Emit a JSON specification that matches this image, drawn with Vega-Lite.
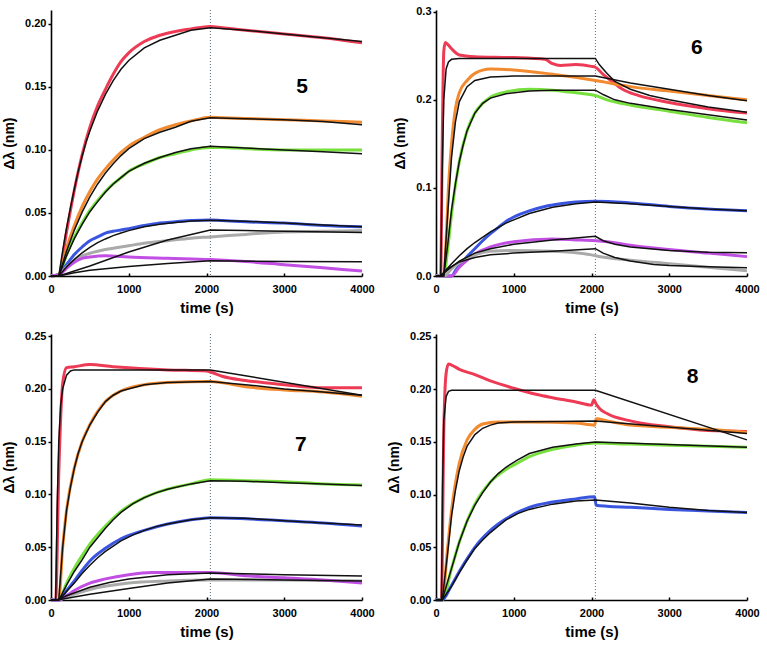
{
"$schema": "https://vega.github.io/schema/vega-lite/v6.json",
"background": "white",
"padding": {"left": 2, "top": 5, "right": 5, "bottom": 5},
"columns": 2,
"spacing": {"row": 58, "column": 74},
"bounds": "flush",
"config": {
  "view": {"stroke": null},
  "axis": {"grid": false, "domainColor": "black", "domainWidth": 1.6, "tickColor": "black", "tickWidth": 1.5,
    "labelFont": "Liberation Sans", "labelFontWeight": "bold", "labelFontSize": 11, "labelColor": "black",
    "titleFont": "Liberation Sans", "titleFontWeight": "bold", "titleFontSize": 14, "titleColor": "black", "labelFlush": false, "labelOverlap": false},
  "axisX": {"tickSize": -3, "labelPadding": 10, "titlePadding": 6, "titleFontSize": 15, "format": "d"},
  "axisY": {"tickSize": 3, "labelPadding": 2, "titlePadding": 8}
},
"datasets": {
"p5": [
{"s":"R","k":"d","t":0,"v":0},{"s":"R","k":"d","t":100,"v":0.001},{"s":"R","k":"d","t":200,"v":0.035},{"s":"R","k":"d","t":300,"v":0.068},{"s":"R","k":"d","t":400,"v":0.096},{"s":"R","k":"d","t":500,"v":0.118},{"s":"R","k":"d","t":600,"v":0.135},{"s":"R","k":"d","t":700,"v":0.148},{"s":"R","k":"d","t":800,"v":0.16},{"s":"R","k":"d","t":900,"v":0.17},{"s":"R","k":"d","t":1000,"v":0.177},{"s":"R","k":"d","t":1200,"v":0.186},{"s":"R","k":"d","t":1400,"v":0.191},{"s":"R","k":"d","t":1600,"v":0.194},{"s":"R","k":"d","t":1800,"v":0.196},{"s":"R","k":"d","t":2050,"v":0.198},{"s":"R","k":"d","t":2200,"v":0.197},{"s":"R","k":"d","t":2500,"v":0.195},{"s":"R","k":"d","t":3000,"v":0.192},{"s":"R","k":"d","t":3500,"v":0.189},{"s":"R","k":"d","t":4000,"v":0.185},
{"s":"R","k":"f","t":0,"v":0},{"s":"R","k":"f","t":100,"v":0},{"s":"R","k":"f","t":150,"v":0.02},{"s":"R","k":"f","t":200,"v":0.038},{"s":"R","k":"f","t":250,"v":0.054},{"s":"R","k":"f","t":300,"v":0.069},{"s":"R","k":"f","t":350,"v":0.083},{"s":"R","k":"f","t":400,"v":0.095},{"s":"R","k":"f","t":450,"v":0.106},{"s":"R","k":"f","t":500,"v":0.115},{"s":"R","k":"f","t":600,"v":0.131},{"s":"R","k":"f","t":700,"v":0.144},{"s":"R","k":"f","t":800,"v":0.155},{"s":"R","k":"f","t":900,"v":0.164},{"s":"R","k":"f","t":1000,"v":0.171},{"s":"R","k":"f","t":1200,"v":0.181},{"s":"R","k":"f","t":1400,"v":0.187},{"s":"R","k":"f","t":1600,"v":0.191},{"s":"R","k":"f","t":1800,"v":0.195},{"s":"R","k":"f","t":2050,"v":0.197},{"s":"R","k":"f","t":2500,"v":0.195},{"s":"R","k":"f","t":3000,"v":0.192},{"s":"R","k":"f","t":3500,"v":0.189},{"s":"R","k":"f","t":4000,"v":0.186},
{"s":"O","k":"d","t":0,"v":0},{"s":"O","k":"d","t":100,"v":0.001},{"s":"O","k":"d","t":200,"v":0.022},{"s":"O","k":"d","t":300,"v":0.04},{"s":"O","k":"d","t":400,"v":0.055},{"s":"O","k":"d","t":500,"v":0.067},{"s":"O","k":"d","t":600,"v":0.077},{"s":"O","k":"d","t":700,"v":0.085},{"s":"O","k":"d","t":800,"v":0.092},{"s":"O","k":"d","t":900,"v":0.098},{"s":"O","k":"d","t":1000,"v":0.103},{"s":"O","k":"d","t":1200,"v":0.11},{"s":"O","k":"d","t":1400,"v":0.116},{"s":"O","k":"d","t":1600,"v":0.12},{"s":"O","k":"d","t":1800,"v":0.123},{"s":"O","k":"d","t":2050,"v":0.126},{"s":"O","k":"d","t":2200,"v":0.1255},{"s":"O","k":"d","t":2500,"v":0.125},{"s":"O","k":"d","t":3000,"v":0.124},{"s":"O","k":"d","t":3500,"v":0.123},{"s":"O","k":"d","t":4000,"v":0.122},
{"s":"O","k":"f","t":0,"v":0},{"s":"O","k":"f","t":100,"v":0},{"s":"O","k":"f","t":200,"v":0.0197},{"s":"O","k":"f","t":300,"v":0.0364},{"s":"O","k":"f","t":400,"v":0.0507},{"s":"O","k":"f","t":500,"v":0.0628},{"s":"O","k":"f","t":600,"v":0.073},{"s":"O","k":"f","t":700,"v":0.0817},{"s":"O","k":"f","t":800,"v":0.089},{"s":"O","k":"f","t":900,"v":0.0955},{"s":"O","k":"f","t":1000,"v":0.101},{"s":"O","k":"f","t":1200,"v":0.109},{"s":"O","k":"f","t":1400,"v":0.114},{"s":"O","k":"f","t":1600,"v":0.118},{"s":"O","k":"f","t":1800,"v":0.1227},{"s":"O","k":"f","t":2050,"v":0.1255},{"s":"O","k":"f","t":2500,"v":0.1248},{"s":"O","k":"f","t":3000,"v":0.124},{"s":"O","k":"f","t":3500,"v":0.1225},{"s":"O","k":"f","t":4000,"v":0.12},
{"s":"G","k":"d","t":0,"v":0},{"s":"G","k":"d","t":100,"v":0.001},{"s":"G","k":"d","t":200,"v":0.017},{"s":"G","k":"d","t":300,"v":0.031},{"s":"G","k":"d","t":400,"v":0.042},{"s":"G","k":"d","t":500,"v":0.052},{"s":"G","k":"d","t":600,"v":0.06},{"s":"G","k":"d","t":700,"v":0.067},{"s":"G","k":"d","t":800,"v":0.073},{"s":"G","k":"d","t":900,"v":0.078},{"s":"G","k":"d","t":1000,"v":0.083},{"s":"G","k":"d","t":1200,"v":0.089},{"s":"G","k":"d","t":1400,"v":0.094},{"s":"G","k":"d","t":1600,"v":0.097},{"s":"G","k":"d","t":1800,"v":0.1},{"s":"G","k":"d","t":2050,"v":0.102},{"s":"G","k":"d","t":2200,"v":0.102},{"s":"G","k":"d","t":2500,"v":0.101},{"s":"G","k":"d","t":3000,"v":0.1},{"s":"G","k":"d","t":3500,"v":0.1},{"s":"G","k":"d","t":4000,"v":0.1},
{"s":"G","k":"f","t":0,"v":0},{"s":"G","k":"f","t":100,"v":0},{"s":"G","k":"f","t":200,"v":0.016},{"s":"G","k":"f","t":300,"v":0.0296},{"s":"G","k":"f","t":400,"v":0.041},{"s":"G","k":"f","t":500,"v":0.051},{"s":"G","k":"f","t":600,"v":0.059},{"s":"G","k":"f","t":700,"v":0.0667},{"s":"G","k":"f","t":800,"v":0.073},{"s":"G","k":"f","t":900,"v":0.078},{"s":"G","k":"f","t":1000,"v":0.083},{"s":"G","k":"f","t":1200,"v":0.0894},{"s":"G","k":"f","t":1400,"v":0.094},{"s":"G","k":"f","t":1600,"v":0.098},{"s":"G","k":"f","t":1800,"v":0.1009},{"s":"G","k":"f","t":2050,"v":0.103},{"s":"G","k":"f","t":2500,"v":0.1015},{"s":"G","k":"f","t":3000,"v":0.1},{"s":"G","k":"f","t":3500,"v":0.0985},{"s":"G","k":"f","t":4000,"v":0.097},
{"s":"B","k":"d","t":0,"v":0},{"s":"B","k":"d","t":100,"v":0.001},{"s":"B","k":"d","t":200,"v":0.009},{"s":"B","k":"d","t":300,"v":0.017},{"s":"B","k":"d","t":400,"v":0.023},{"s":"B","k":"d","t":500,"v":0.028},{"s":"B","k":"d","t":600,"v":0.031},{"s":"B","k":"d","t":700,"v":0.034},{"s":"B","k":"d","t":800,"v":0.0355},{"s":"B","k":"d","t":900,"v":0.0365},{"s":"B","k":"d","t":1000,"v":0.0375},{"s":"B","k":"d","t":1200,"v":0.04},{"s":"B","k":"d","t":1400,"v":0.042},{"s":"B","k":"d","t":1600,"v":0.043},{"s":"B","k":"d","t":1800,"v":0.044},{"s":"B","k":"d","t":2050,"v":0.0445},{"s":"B","k":"d","t":2200,"v":0.044},{"s":"B","k":"d","t":2500,"v":0.043},{"s":"B","k":"d","t":3000,"v":0.042},{"s":"B","k":"d","t":3500,"v":0.04},{"s":"B","k":"d","t":4000,"v":0.039},
{"s":"B","k":"f","t":0,"v":0},{"s":"B","k":"f","t":100,"v":0},{"s":"B","k":"f","t":200,"v":0.0072},{"s":"B","k":"f","t":300,"v":0.0132},{"s":"B","k":"f","t":400,"v":0.0184},{"s":"B","k":"f","t":500,"v":0.0227},{"s":"B","k":"f","t":600,"v":0.0265},{"s":"B","k":"f","t":700,"v":0.0294},{"s":"B","k":"f","t":800,"v":0.032},{"s":"B","k":"f","t":900,"v":0.0341},{"s":"B","k":"f","t":1000,"v":0.036},{"s":"B","k":"f","t":1200,"v":0.039},{"s":"B","k":"f","t":1400,"v":0.041},{"s":"B","k":"f","t":1600,"v":0.0425},{"s":"B","k":"f","t":1800,"v":0.0436},{"s":"B","k":"f","t":2050,"v":0.0443},{"s":"B","k":"f","t":2500,"v":0.0435},{"s":"B","k":"f","t":3000,"v":0.042},{"s":"B","k":"f","t":3500,"v":0.0405},{"s":"B","k":"f","t":4000,"v":0.039},
{"s":"Y","k":"d","t":0,"v":0},{"s":"Y","k":"d","t":100,"v":0.001},{"s":"Y","k":"d","t":200,"v":0.007},{"s":"Y","k":"d","t":300,"v":0.012},{"s":"Y","k":"d","t":400,"v":0.016},{"s":"Y","k":"d","t":500,"v":0.018},{"s":"Y","k":"d","t":700,"v":0.021},{"s":"Y","k":"d","t":1000,"v":0.024},{"s":"Y","k":"d","t":1200,"v":0.026},{"s":"Y","k":"d","t":1500,"v":0.028},{"s":"Y","k":"d","t":1800,"v":0.03},{"s":"Y","k":"d","t":2050,"v":0.031},{"s":"Y","k":"d","t":2500,"v":0.033},{"s":"Y","k":"d","t":3000,"v":0.035},{"s":"Y","k":"d","t":3500,"v":0.0355},{"s":"Y","k":"d","t":4000,"v":0.036},
{"s":"Y","k":"f","t":0,"v":0},{"s":"Y","k":"f","t":100,"v":0},{"s":"Y","k":"f","t":500,"v":0.008},{"s":"Y","k":"f","t":1000,"v":0.019},{"s":"Y","k":"f","t":1500,"v":0.0285},{"s":"Y","k":"f","t":2050,"v":0.0365},{"s":"Y","k":"f","t":2500,"v":0.036},{"s":"Y","k":"f","t":3000,"v":0.0355},{"s":"Y","k":"f","t":4000,"v":0.0345},
{"s":"M","k":"d","t":0,"v":0},{"s":"M","k":"d","t":100,"v":0.001},{"s":"M","k":"d","t":200,"v":0.006},{"s":"M","k":"d","t":300,"v":0.011},{"s":"M","k":"d","t":400,"v":0.014},{"s":"M","k":"d","t":500,"v":0.015},{"s":"M","k":"d","t":700,"v":0.016},{"s":"M","k":"d","t":1000,"v":0.015},{"s":"M","k":"d","t":1500,"v":0.014},{"s":"M","k":"d","t":2050,"v":0.013},{"s":"M","k":"d","t":2500,"v":0.0115},{"s":"M","k":"d","t":3000,"v":0.009},{"s":"M","k":"d","t":3500,"v":0.0065},{"s":"M","k":"d","t":4000,"v":0.004},
{"s":"M","k":"f","t":0,"v":0},{"s":"M","k":"f","t":100,"v":0},{"s":"M","k":"f","t":300,"v":0.0025},{"s":"M","k":"f","t":500,"v":0.0045},{"s":"M","k":"f","t":1000,"v":0.0075},{"s":"M","k":"f","t":1500,"v":0.01},{"s":"M","k":"f","t":2050,"v":0.012},{"s":"M","k":"f","t":3000,"v":0.0115},{"s":"M","k":"f","t":4000,"v":0.0113}
],
"p6": [
{"s":"R","k":"d","t":0,"v":0},{"s":"R","k":"d","t":60,"v":0},{"s":"R","k":"d","t":80,"v":0.15},{"s":"R","k":"d","t":100,"v":0.255},{"s":"R","k":"d","t":120,"v":0.265},{"s":"R","k":"d","t":150,"v":0.263},{"s":"R","k":"d","t":200,"v":0.258},{"s":"R","k":"d","t":300,"v":0.251},{"s":"R","k":"d","t":500,"v":0.249},{"s":"R","k":"d","t":1000,"v":0.248},{"s":"R","k":"d","t":1400,"v":0.246},{"s":"R","k":"d","t":1500,"v":0.241},{"s":"R","k":"d","t":1600,"v":0.239},{"s":"R","k":"d","t":1800,"v":0.24},{"s":"R","k":"d","t":2000,"v":0.238},{"s":"R","k":"d","t":2050,"v":0.237},{"s":"R","k":"d","t":2150,"v":0.229},{"s":"R","k":"d","t":2250,"v":0.222},{"s":"R","k":"d","t":2400,"v":0.212},{"s":"R","k":"d","t":2600,"v":0.205},{"s":"R","k":"d","t":3000,"v":0.197},{"s":"R","k":"d","t":3500,"v":0.19},{"s":"R","k":"d","t":4000,"v":0.185},
{"s":"R","k":"f","t":0,"v":0},{"s":"R","k":"f","t":60,"v":0},{"s":"R","k":"f","t":80,"v":0.12},{"s":"R","k":"f","t":100,"v":0.2},{"s":"R","k":"f","t":130,"v":0.235},{"s":"R","k":"f","t":160,"v":0.243},{"s":"R","k":"f","t":200,"v":0.246},{"s":"R","k":"f","t":300,"v":0.247},{"s":"R","k":"f","t":2050,"v":0.247},{"s":"R","k":"f","t":2100,"v":0.24},{"s":"R","k":"f","t":2200,"v":0.23},{"s":"R","k":"f","t":2300,"v":0.221},{"s":"R","k":"f","t":2500,"v":0.212},{"s":"R","k":"f","t":2750,"v":0.205},{"s":"R","k":"f","t":3000,"v":0.2},{"s":"R","k":"f","t":3500,"v":0.192},{"s":"R","k":"f","t":4000,"v":0.186},
{"s":"O","k":"d","t":0,"v":0},{"s":"O","k":"d","t":100,"v":0},{"s":"O","k":"d","t":130,"v":0.04},{"s":"O","k":"d","t":160,"v":0.1},{"s":"O","k":"d","t":200,"v":0.15},{"s":"O","k":"d","t":250,"v":0.19},{"s":"O","k":"d","t":300,"v":0.208},{"s":"O","k":"d","t":400,"v":0.222},{"s":"O","k":"d","t":500,"v":0.23},{"s":"O","k":"d","t":700,"v":0.235},{"s":"O","k":"d","t":1000,"v":0.234},{"s":"O","k":"d","t":1500,"v":0.229},{"s":"O","k":"d","t":2050,"v":0.222},{"s":"O","k":"d","t":2500,"v":0.215},{"s":"O","k":"d","t":3000,"v":0.21},{"s":"O","k":"d","t":3500,"v":0.205},{"s":"O","k":"d","t":4000,"v":0.2},
{"s":"O","k":"f","t":0,"v":0},{"s":"O","k":"f","t":100,"v":0},{"s":"O","k":"f","t":150,"v":0.07},{"s":"O","k":"f","t":200,"v":0.135},{"s":"O","k":"f","t":250,"v":0.175},{"s":"O","k":"f","t":300,"v":0.198},{"s":"O","k":"f","t":400,"v":0.215},{"s":"O","k":"f","t":500,"v":0.222},{"s":"O","k":"f","t":700,"v":0.226},{"s":"O","k":"f","t":1000,"v":0.227},{"s":"O","k":"f","t":2050,"v":0.227},{"s":"O","k":"f","t":2500,"v":0.219},{"s":"O","k":"f","t":3000,"v":0.212},{"s":"O","k":"f","t":3500,"v":0.205},{"s":"O","k":"f","t":4000,"v":0.199},
{"s":"G","k":"d","t":0,"v":0},{"s":"G","k":"d","t":100,"v":0},{"s":"G","k":"d","t":150,"v":0.03},{"s":"G","k":"d","t":200,"v":0.07},{"s":"G","k":"d","t":300,"v":0.13},{"s":"G","k":"d","t":400,"v":0.165},{"s":"G","k":"d","t":500,"v":0.185},{"s":"G","k":"d","t":600,"v":0.196},{"s":"G","k":"d","t":700,"v":0.203},{"s":"G","k":"d","t":900,"v":0.209},{"s":"G","k":"d","t":1200,"v":0.212},{"s":"G","k":"d","t":1500,"v":0.211},{"s":"G","k":"d","t":1800,"v":0.208},{"s":"G","k":"d","t":2050,"v":0.205},{"s":"G","k":"d","t":2200,"v":0.2},{"s":"G","k":"d","t":2500,"v":0.194},{"s":"G","k":"d","t":3000,"v":0.187},{"s":"G","k":"d","t":3500,"v":0.18},{"s":"G","k":"d","t":4000,"v":0.174},
{"s":"G","k":"f","t":0,"v":0},{"s":"G","k":"f","t":100,"v":0},{"s":"G","k":"f","t":150,"v":0.035},{"s":"G","k":"f","t":200,"v":0.075},{"s":"G","k":"f","t":250,"v":0.105},{"s":"G","k":"f","t":300,"v":0.13},{"s":"G","k":"f","t":350,"v":0.149},{"s":"G","k":"f","t":400,"v":0.165},{"s":"G","k":"f","t":500,"v":0.185},{"s":"G","k":"f","t":600,"v":0.196},{"s":"G","k":"f","t":700,"v":0.202},{"s":"G","k":"f","t":900,"v":0.207},{"s":"G","k":"f","t":1200,"v":0.21},{"s":"G","k":"f","t":1500,"v":0.211},{"s":"G","k":"f","t":2050,"v":0.211},{"s":"G","k":"f","t":2150,"v":0.206},{"s":"G","k":"f","t":2300,"v":0.2},{"s":"G","k":"f","t":2500,"v":0.196},{"s":"G","k":"f","t":3000,"v":0.189},{"s":"G","k":"f","t":3500,"v":0.183},{"s":"G","k":"f","t":4000,"v":0.177},
{"s":"B","k":"d","t":0,"v":0},{"s":"B","k":"d","t":200,"v":0},{"s":"B","k":"d","t":250,"v":0.006},{"s":"B","k":"d","t":300,"v":0.012},{"s":"B","k":"d","t":400,"v":0.022},{"s":"B","k":"d","t":500,"v":0.031},{"s":"B","k":"d","t":600,"v":0.04},{"s":"B","k":"d","t":700,"v":0.048},{"s":"B","k":"d","t":800,"v":0.055},{"s":"B","k":"d","t":900,"v":0.062},{"s":"B","k":"d","t":1000,"v":0.067},{"s":"B","k":"d","t":1200,"v":0.074},{"s":"B","k":"d","t":1400,"v":0.079},{"s":"B","k":"d","t":1600,"v":0.082},{"s":"B","k":"d","t":1800,"v":0.084},{"s":"B","k":"d","t":2050,"v":0.085},{"s":"B","k":"d","t":2500,"v":0.083},{"s":"B","k":"d","t":3000,"v":0.079},{"s":"B","k":"d","t":3500,"v":0.076},{"s":"B","k":"d","t":4000,"v":0.074},
{"s":"B","k":"f","t":0,"v":0},{"s":"B","k":"f","t":60,"v":0},{"s":"B","k":"f","t":100,"v":0.004},{"s":"B","k":"f","t":200,"v":0.014},{"s":"B","k":"f","t":300,"v":0.023},{"s":"B","k":"f","t":400,"v":0.031},{"s":"B","k":"f","t":500,"v":0.038},{"s":"B","k":"f","t":700,"v":0.05},{"s":"B","k":"f","t":900,"v":0.06},{"s":"B","k":"f","t":1200,"v":0.071},{"s":"B","k":"f","t":1500,"v":0.078},{"s":"B","k":"f","t":1800,"v":0.082},{"s":"B","k":"f","t":2050,"v":0.084},{"s":"B","k":"f","t":2500,"v":0.082},{"s":"B","k":"f","t":3000,"v":0.079},{"s":"B","k":"f","t":3500,"v":0.076},{"s":"B","k":"f","t":4000,"v":0.074},
{"s":"M","k":"d","t":0,"v":0},{"s":"M","k":"d","t":200,"v":0},{"s":"M","k":"d","t":300,"v":0.01},{"s":"M","k":"d","t":400,"v":0.018},{"s":"M","k":"d","t":500,"v":0.025},{"s":"M","k":"d","t":700,"v":0.033},{"s":"M","k":"d","t":1000,"v":0.039},{"s":"M","k":"d","t":1500,"v":0.042},{"s":"M","k":"d","t":1800,"v":0.041},{"s":"M","k":"d","t":2050,"v":0.04},{"s":"M","k":"d","t":2200,"v":0.039},{"s":"M","k":"d","t":2500,"v":0.035},{"s":"M","k":"d","t":3000,"v":0.03},{"s":"M","k":"d","t":3500,"v":0.026},{"s":"M","k":"d","t":4000,"v":0.022},
{"s":"M","k":"f","t":0,"v":0},{"s":"M","k":"f","t":60,"v":0},{"s":"M","k":"f","t":150,"v":0.007},{"s":"M","k":"f","t":300,"v":0.017},{"s":"M","k":"f","t":500,"v":0.026},{"s":"M","k":"f","t":700,"v":0.031},{"s":"M","k":"f","t":1000,"v":0.036},{"s":"M","k":"f","t":1500,"v":0.041},{"s":"M","k":"f","t":2050,"v":0.045},{"s":"M","k":"f","t":2150,"v":0.04},{"s":"M","k":"f","t":2300,"v":0.036},{"s":"M","k":"f","t":2500,"v":0.033},{"s":"M","k":"f","t":3000,"v":0.029},{"s":"M","k":"f","t":3500,"v":0.027},{"s":"M","k":"f","t":4000,"v":0.0265},
{"s":"Y","k":"d","t":0,"v":0},{"s":"Y","k":"d","t":100,"v":0},{"s":"Y","k":"d","t":200,"v":0.008},{"s":"Y","k":"d","t":300,"v":0.015},{"s":"Y","k":"d","t":500,"v":0.024},{"s":"Y","k":"d","t":700,"v":0.028},{"s":"Y","k":"d","t":1000,"v":0.029},{"s":"Y","k":"d","t":1500,"v":0.028},{"s":"Y","k":"d","t":2000,"v":0.024},{"s":"Y","k":"d","t":2050,"v":0.023},{"s":"Y","k":"d","t":2500,"v":0.018},{"s":"Y","k":"d","t":3000,"v":0.014},{"s":"Y","k":"d","t":3500,"v":0.01},{"s":"Y","k":"d","t":4000,"v":0.006},
{"s":"Y","k":"f","t":0,"v":0},{"s":"Y","k":"f","t":60,"v":0},{"s":"Y","k":"f","t":150,"v":0.008},{"s":"Y","k":"f","t":300,"v":0.016},{"s":"Y","k":"f","t":500,"v":0.021},{"s":"Y","k":"f","t":700,"v":0.024},{"s":"Y","k":"f","t":1000,"v":0.026},{"s":"Y","k":"f","t":1500,"v":0.028},{"s":"Y","k":"f","t":2050,"v":0.031},{"s":"Y","k":"f","t":2150,"v":0.026},{"s":"Y","k":"f","t":2300,"v":0.021},{"s":"Y","k":"f","t":2500,"v":0.017},{"s":"Y","k":"f","t":2800,"v":0.013},{"s":"Y","k":"f","t":3000,"v":0.012},{"s":"Y","k":"f","t":3500,"v":0.0105},{"s":"Y","k":"f","t":4000,"v":0.0095}
],
"p7": [
{"s":"R","k":"d","t":0,"v":0},{"s":"R","k":"d","t":60,"v":0},{"s":"R","k":"d","t":100,"v":0.12},{"s":"R","k":"d","t":150,"v":0.205},{"s":"R","k":"d","t":200,"v":0.22},{"s":"R","k":"d","t":300,"v":0.221},{"s":"R","k":"d","t":500,"v":0.223},{"s":"R","k":"d","t":800,"v":0.221},{"s":"R","k":"d","t":1000,"v":0.22},{"s":"R","k":"d","t":1500,"v":0.218},{"s":"R","k":"d","t":2000,"v":0.217},{"s":"R","k":"d","t":2050,"v":0.216},{"s":"R","k":"d","t":2200,"v":0.212},{"s":"R","k":"d","t":2500,"v":0.208},{"s":"R","k":"d","t":3000,"v":0.204},{"s":"R","k":"d","t":3500,"v":0.201},{"s":"R","k":"d","t":4000,"v":0.201},
{"s":"R","k":"f","t":0,"v":0},{"s":"R","k":"f","t":60,"v":0},{"s":"R","k":"f","t":80,"v":0.09},{"s":"R","k":"f","t":100,"v":0.15},{"s":"R","k":"f","t":125,"v":0.185},{"s":"R","k":"f","t":150,"v":0.2},{"s":"R","k":"f","t":200,"v":0.213},{"s":"R","k":"f","t":250,"v":0.217},{"s":"R","k":"f","t":300,"v":0.218},{"s":"R","k":"f","t":2050,"v":0.218},{"s":"R","k":"f","t":4000,"v":0.194},
{"s":"O","k":"d","t":0,"v":0},{"s":"O","k":"d","t":100,"v":0},{"s":"O","k":"d","t":150,"v":0.05},{"s":"O","k":"d","t":200,"v":0.085},{"s":"O","k":"d","t":300,"v":0.125},{"s":"O","k":"d","t":400,"v":0.15},{"s":"O","k":"d","t":500,"v":0.166},{"s":"O","k":"d","t":700,"v":0.188},{"s":"O","k":"d","t":900,"v":0.198},{"s":"O","k":"d","t":1200,"v":0.204},{"s":"O","k":"d","t":1500,"v":0.206},{"s":"O","k":"d","t":2050,"v":0.207},{"s":"O","k":"d","t":2500,"v":0.202},{"s":"O","k":"d","t":3000,"v":0.199},{"s":"O","k":"d","t":3500,"v":0.197},{"s":"O","k":"d","t":4000,"v":0.193},
{"s":"O","k":"f","t":0,"v":0},{"s":"O","k":"f","t":100,"v":0},{"s":"O","k":"f","t":150,"v":0.05},{"s":"O","k":"f","t":200,"v":0.085},{"s":"O","k":"f","t":250,"v":0.107},{"s":"O","k":"f","t":300,"v":0.125},{"s":"O","k":"f","t":350,"v":0.139},{"s":"O","k":"f","t":400,"v":0.15},{"s":"O","k":"f","t":500,"v":0.166},{"s":"O","k":"f","t":600,"v":0.178},{"s":"O","k":"f","t":700,"v":0.188},{"s":"O","k":"f","t":800,"v":0.194},{"s":"O","k":"f","t":900,"v":0.198},{"s":"O","k":"f","t":1200,"v":0.204},{"s":"O","k":"f","t":1500,"v":0.206},{"s":"O","k":"f","t":2050,"v":0.207},{"s":"O","k":"f","t":2500,"v":0.204},{"s":"O","k":"f","t":3000,"v":0.2},{"s":"O","k":"f","t":3500,"v":0.197},{"s":"O","k":"f","t":4000,"v":0.194},
{"s":"G","k":"d","t":0,"v":0},{"s":"G","k":"d","t":100,"v":0},{"s":"G","k":"d","t":200,"v":0.016},{"s":"G","k":"d","t":300,"v":0.03},{"s":"G","k":"d","t":400,"v":0.042},{"s":"G","k":"d","t":500,"v":0.053},{"s":"G","k":"d","t":700,"v":0.07},{"s":"G","k":"d","t":900,"v":0.084},{"s":"G","k":"d","t":1200,"v":0.097},{"s":"G","k":"d","t":1500,"v":0.105},{"s":"G","k":"d","t":1800,"v":0.11},{"s":"G","k":"d","t":2050,"v":0.114},{"s":"G","k":"d","t":2500,"v":0.113},{"s":"G","k":"d","t":3000,"v":0.112},{"s":"G","k":"d","t":3500,"v":0.11},{"s":"G","k":"d","t":4000,"v":0.109},
{"s":"G","k":"f","t":0,"v":0},{"s":"G","k":"f","t":100,"v":0},{"s":"G","k":"f","t":200,"v":0.014},{"s":"G","k":"f","t":300,"v":0.027},{"s":"G","k":"f","t":400,"v":0.038},{"s":"G","k":"f","t":500,"v":0.05},{"s":"G","k":"f","t":600,"v":0.059},{"s":"G","k":"f","t":700,"v":0.068},{"s":"G","k":"f","t":800,"v":0.076},{"s":"G","k":"f","t":900,"v":0.083},{"s":"G","k":"f","t":1050,"v":0.091},{"s":"G","k":"f","t":1200,"v":0.097},{"s":"G","k":"f","t":1350,"v":0.1015},{"s":"G","k":"f","t":1500,"v":0.105},{"s":"G","k":"f","t":1800,"v":0.11},{"s":"G","k":"f","t":2050,"v":0.113},{"s":"G","k":"f","t":2500,"v":0.1125},{"s":"G","k":"f","t":3000,"v":0.111},{"s":"G","k":"f","t":3500,"v":0.11},{"s":"G","k":"f","t":4000,"v":0.1085},
{"s":"B","k":"d","t":0,"v":0},{"s":"B","k":"d","t":100,"v":0},{"s":"B","k":"d","t":200,"v":0.009},{"s":"B","k":"d","t":300,"v":0.018},{"s":"B","k":"d","t":400,"v":0.028},{"s":"B","k":"d","t":500,"v":0.037},{"s":"B","k":"d","t":700,"v":0.049},{"s":"B","k":"d","t":900,"v":0.058},{"s":"B","k":"d","t":1200,"v":0.066},{"s":"B","k":"d","t":1500,"v":0.072},{"s":"B","k":"d","t":1800,"v":0.076},{"s":"B","k":"d","t":2050,"v":0.078},{"s":"B","k":"d","t":2500,"v":0.077},{"s":"B","k":"d","t":3000,"v":0.075},{"s":"B","k":"d","t":3500,"v":0.073},{"s":"B","k":"d","t":4000,"v":0.07},
{"s":"B","k":"f","t":0,"v":0},{"s":"B","k":"f","t":100,"v":0},{"s":"B","k":"f","t":200,"v":0.008},{"s":"B","k":"f","t":300,"v":0.016},{"s":"B","k":"f","t":400,"v":0.025},{"s":"B","k":"f","t":500,"v":0.033},{"s":"B","k":"f","t":600,"v":0.04},{"s":"B","k":"f","t":700,"v":0.046},{"s":"B","k":"f","t":800,"v":0.051},{"s":"B","k":"f","t":900,"v":0.056},{"s":"B","k":"f","t":1050,"v":0.0615},{"s":"B","k":"f","t":1200,"v":0.066},{"s":"B","k":"f","t":1350,"v":0.0695},{"s":"B","k":"f","t":1500,"v":0.072},{"s":"B","k":"f","t":1800,"v":0.076},{"s":"B","k":"f","t":2050,"v":0.078},{"s":"B","k":"f","t":2500,"v":0.0775},{"s":"B","k":"f","t":3000,"v":0.075},{"s":"B","k":"f","t":3500,"v":0.073},{"s":"B","k":"f","t":4000,"v":0.071},
{"s":"Y","k":"d","t":0,"v":0},{"s":"Y","k":"d","t":100,"v":0},{"s":"Y","k":"d","t":200,"v":0.003},{"s":"Y","k":"d","t":500,"v":0.01},{"s":"Y","k":"d","t":1000,"v":0.016},{"s":"Y","k":"d","t":1500,"v":0.018},{"s":"Y","k":"d","t":2050,"v":0.019},{"s":"Y","k":"d","t":3000,"v":0.019},{"s":"Y","k":"d","t":4000,"v":0.018},
{"s":"Y","k":"f","t":0,"v":0},{"s":"Y","k":"f","t":80,"v":0},{"s":"Y","k":"f","t":500,"v":0.0055},{"s":"Y","k":"f","t":1000,"v":0.011},{"s":"Y","k":"f","t":1500,"v":0.016},{"s":"Y","k":"f","t":2050,"v":0.02},{"s":"Y","k":"f","t":3000,"v":0.019},{"s":"Y","k":"f","t":4000,"v":0.018},
{"s":"M","k":"d","t":0,"v":0},{"s":"M","k":"d","t":100,"v":0},{"s":"M","k":"d","t":200,"v":0.004},{"s":"M","k":"d","t":300,"v":0.009},{"s":"M","k":"d","t":500,"v":0.016},{"s":"M","k":"d","t":700,"v":0.02},{"s":"M","k":"d","t":1000,"v":0.024},{"s":"M","k":"d","t":1300,"v":0.026},{"s":"M","k":"d","t":1600,"v":0.026},{"s":"M","k":"d","t":2050,"v":0.026},{"s":"M","k":"d","t":2500,"v":0.023},{"s":"M","k":"d","t":3000,"v":0.021},{"s":"M","k":"d","t":3500,"v":0.019},{"s":"M","k":"d","t":4000,"v":0.016},
{"s":"M","k":"f","t":0,"v":0},{"s":"M","k":"f","t":80,"v":0},{"s":"M","k":"f","t":200,"v":0.004},{"s":"M","k":"f","t":500,"v":0.012},{"s":"M","k":"f","t":750,"v":0.0165},{"s":"M","k":"f","t":1000,"v":0.02},{"s":"M","k":"f","t":1500,"v":0.024},{"s":"M","k":"f","t":2050,"v":0.0255},{"s":"M","k":"f","t":3000,"v":0.024},{"s":"M","k":"f","t":4000,"v":0.0227}
],
"p8": [
{"s":"R","k":"d","t":0,"v":0},{"s":"R","k":"d","t":70,"v":0},{"s":"R","k":"d","t":100,"v":0.16},{"s":"R","k":"d","t":130,"v":0.215},{"s":"R","k":"d","t":160,"v":0.224},{"s":"R","k":"d","t":200,"v":0.223},{"s":"R","k":"d","t":300,"v":0.219},{"s":"R","k":"d","t":500,"v":0.214},{"s":"R","k":"d","t":700,"v":0.208},{"s":"R","k":"d","t":1000,"v":0.201},{"s":"R","k":"d","t":1300,"v":0.195},{"s":"R","k":"d","t":1500,"v":0.192},{"s":"R","k":"d","t":1800,"v":0.188},{"s":"R","k":"d","t":2000,"v":0.185},{"s":"R","k":"d","t":2030,"v":0.19},{"s":"R","k":"d","t":2060,"v":0.186},{"s":"R","k":"d","t":2100,"v":0.182},{"s":"R","k":"d","t":2200,"v":0.177},{"s":"R","k":"d","t":2500,"v":0.17},{"s":"R","k":"d","t":3000,"v":0.1645},{"s":"R","k":"d","t":3500,"v":0.161},{"s":"R","k":"d","t":4000,"v":0.16},
{"s":"R","k":"f","t":0,"v":0},{"s":"R","k":"f","t":70,"v":0},{"s":"R","k":"f","t":85,"v":0.11},{"s":"R","k":"f","t":100,"v":0.17},{"s":"R","k":"f","t":130,"v":0.193},{"s":"R","k":"f","t":160,"v":0.198},{"s":"R","k":"f","t":200,"v":0.199},{"s":"R","k":"f","t":2050,"v":0.199},{"s":"R","k":"f","t":4000,"v":0.152},
{"s":"O","k":"d","t":0,"v":0},{"s":"O","k":"d","t":80,"v":0},{"s":"O","k":"d","t":150,"v":0.05},{"s":"O","k":"d","t":200,"v":0.085},{"s":"O","k":"d","t":300,"v":0.13},{"s":"O","k":"d","t":400,"v":0.152},{"s":"O","k":"d","t":500,"v":0.162},{"s":"O","k":"d","t":600,"v":0.167},{"s":"O","k":"d","t":800,"v":0.169},{"s":"O","k":"d","t":1200,"v":0.169},{"s":"O","k":"d","t":1800,"v":0.168},{"s":"O","k":"d","t":2040,"v":0.166},{"s":"O","k":"d","t":2060,"v":0.172},{"s":"O","k":"d","t":2200,"v":0.17},{"s":"O","k":"d","t":2500,"v":0.166},{"s":"O","k":"d","t":3000,"v":0.164},{"s":"O","k":"d","t":3500,"v":0.162},{"s":"O","k":"d","t":4000,"v":0.159},
{"s":"O","k":"f","t":0,"v":0},{"s":"O","k":"f","t":80,"v":0},{"s":"O","k":"f","t":150,"v":0.045},{"s":"O","k":"f","t":200,"v":0.08},{"s":"O","k":"f","t":250,"v":0.104},{"s":"O","k":"f","t":300,"v":0.123},{"s":"O","k":"f","t":350,"v":0.136},{"s":"O","k":"f","t":400,"v":0.146},{"s":"O","k":"f","t":500,"v":0.157},{"s":"O","k":"f","t":600,"v":0.163},{"s":"O","k":"f","t":700,"v":0.166},{"s":"O","k":"f","t":800,"v":0.168},{"s":"O","k":"f","t":1000,"v":0.169},{"s":"O","k":"f","t":2050,"v":0.17},{"s":"O","k":"f","t":4000,"v":0.158},
{"s":"G","k":"d","t":0,"v":0},{"s":"G","k":"d","t":80,"v":0},{"s":"G","k":"d","t":200,"v":0.03},{"s":"G","k":"d","t":300,"v":0.055},{"s":"G","k":"d","t":400,"v":0.075},{"s":"G","k":"d","t":500,"v":0.091},{"s":"G","k":"d","t":700,"v":0.112},{"s":"G","k":"d","t":900,"v":0.124},{"s":"G","k":"d","t":1000,"v":0.128},{"s":"G","k":"d","t":1200,"v":0.136},{"s":"G","k":"d","t":1500,"v":0.143},{"s":"G","k":"d","t":1800,"v":0.147},{"s":"G","k":"d","t":2050,"v":0.149},{"s":"G","k":"d","t":2500,"v":0.148},{"s":"G","k":"d","t":3000,"v":0.147},{"s":"G","k":"d","t":3500,"v":0.146},{"s":"G","k":"d","t":4000,"v":0.145},
{"s":"G","k":"f","t":0,"v":0},{"s":"G","k":"f","t":80,"v":0},{"s":"G","k":"f","t":200,"v":0.03},{"s":"G","k":"f","t":300,"v":0.055},{"s":"G","k":"f","t":400,"v":0.075},{"s":"G","k":"f","t":500,"v":0.09},{"s":"G","k":"f","t":600,"v":0.102},{"s":"G","k":"f","t":700,"v":0.112},{"s":"G","k":"f","t":800,"v":0.12},{"s":"G","k":"f","t":900,"v":0.126},{"s":"G","k":"f","t":1050,"v":0.133},{"s":"G","k":"f","t":1200,"v":0.139},{"s":"G","k":"f","t":1500,"v":0.145},{"s":"G","k":"f","t":1800,"v":0.148},{"s":"G","k":"f","t":2050,"v":0.15},{"s":"G","k":"f","t":4000,"v":0.145},
{"s":"B","k":"d","t":0,"v":0},{"s":"B","k":"d","t":80,"v":0},{"s":"B","k":"d","t":200,"v":0.014},{"s":"B","k":"d","t":300,"v":0.027},{"s":"B","k":"d","t":400,"v":0.039},{"s":"B","k":"d","t":500,"v":0.05},{"s":"B","k":"d","t":700,"v":0.066},{"s":"B","k":"d","t":900,"v":0.077},{"s":"B","k":"d","t":1200,"v":0.088},{"s":"B","k":"d","t":1500,"v":0.093},{"s":"B","k":"d","t":1800,"v":0.096},{"s":"B","k":"d","t":2040,"v":0.098},{"s":"B","k":"d","t":2060,"v":0.09},{"s":"B","k":"d","t":2200,"v":0.089},{"s":"B","k":"d","t":2500,"v":0.088},{"s":"B","k":"d","t":3000,"v":0.086},{"s":"B","k":"d","t":3500,"v":0.0845},{"s":"B","k":"d","t":4000,"v":0.083},
{"s":"B","k":"f","t":0,"v":0},{"s":"B","k":"f","t":80,"v":0},{"s":"B","k":"f","t":200,"v":0.013},{"s":"B","k":"f","t":300,"v":0.026},{"s":"B","k":"f","t":400,"v":0.038},{"s":"B","k":"f","t":500,"v":0.049},{"s":"B","k":"f","t":600,"v":0.057},{"s":"B","k":"f","t":700,"v":0.064},{"s":"B","k":"f","t":800,"v":0.07},{"s":"B","k":"f","t":900,"v":0.076},{"s":"B","k":"f","t":1050,"v":0.082},{"s":"B","k":"f","t":1200,"v":0.086},{"s":"B","k":"f","t":1500,"v":0.091},{"s":"B","k":"f","t":1800,"v":0.094},{"s":"B","k":"f","t":2050,"v":0.095},{"s":"B","k":"f","t":2500,"v":0.092},{"s":"B","k":"f","t":3000,"v":0.088},{"s":"B","k":"f","t":3500,"v":0.085},{"s":"B","k":"f","t":4000,"v":0.083}
]
},
"concat": [
{
 "width": 311, "height": 266,
 "layer": [
  {"data": {"values": [{}]}, "mark": {"type": "rule", "strokeDash": [1, 2], "color": "#5a6a7a", "strokeWidth": 1}, "encoding": {"x": {"datum": 2050, "type": "quantitative"}}},
  {"data": {"name": "p5"}, "transform": [{"filter": "datum.k == 'd'"}], "mark": {"type": "line", "strokeWidth": 3, "interpolate": "monotone"},
   "encoding": {"x": {"field": "t", "type": "quantitative", "scale": {"domain": [0, 4000], "nice": false}, "axis": {"values": [0, 1000, 2000, 3000, 4000], "title": "time (s)"}},
    "y": {"field": "v", "type": "quantitative", "scale": {"domain": [0, 0.211], "nice": false}, "axis": {"values": [0, 0.05, 0.1, 0.15, 0.2], "format": ".2f", "title": "Δλ (nm)"}},
    "color": {"field": "s", "type": "nominal", "legend": null, "scale": {"domain": ["R","O","G","B","Y","M"], "range": ["#ee3b55","#f28a30","#78e03c","#3a55e0","#aaaaaa","#c24fe3"]}}}},
  {"data": {"name": "p5"}, "transform": [{"filter": "datum.k == 'f'"}], "mark": {"type": "line", "strokeWidth": 1.5, "color": "#111111"},
   "encoding": {"x": {"field": "t", "type": "quantitative"}, "y": {"field": "v", "type": "quantitative"}, "detail": {"field": "s"}}},
  {"data": {"values": [{}]}, "mark": {"type": "text", "fontSize": 21, "fontWeight": "bold", "font": "Liberation Sans", "color": "black", "align": "center", "baseline": "middle"},
   "encoding": {"x": {"datum": 3230, "type": "quantitative"}, "y": {"datum": 0.15, "type": "quantitative"}, "text": {"value": "5"}}}
 ]
},
{
 "width": 311, "height": 266,
 "layer": [
  {"data": {"values": [{}]}, "mark": {"type": "rule", "strokeDash": [1, 2], "color": "#5a6a7a", "strokeWidth": 1}, "encoding": {"x": {"datum": 2050, "type": "quantitative"}}},
  {"data": {"name": "p6"}, "transform": [{"filter": "datum.k == 'd'"}], "mark": {"type": "line", "strokeWidth": 3, "interpolate": "monotone"},
   "encoding": {"x": {"field": "t", "type": "quantitative", "scale": {"domain": [0, 4000], "nice": false}, "axis": {"values": [0, 1000, 2000, 3000, 4000], "title": "time (s)"}},
    "y": {"field": "v", "type": "quantitative", "scale": {"domain": [0, 0.302], "nice": false}, "axis": {"values": [0, 0.1, 0.2, 0.3], "format": ".1f", "title": "Δλ (nm)"}},
    "color": {"field": "s", "type": "nominal", "legend": null, "scale": {"domain": ["R","O","G","B","Y","M"], "range": ["#ee3b55","#f28a30","#78e03c","#3a55e0","#aaaaaa","#c24fe3"]}}}},
  {"data": {"name": "p6"}, "transform": [{"filter": "datum.k == 'f'"}], "mark": {"type": "line", "strokeWidth": 1.5, "color": "#111111"},
   "encoding": {"x": {"field": "t", "type": "quantitative"}, "y": {"field": "v", "type": "quantitative"}, "detail": {"field": "s"}}},
  {"data": {"values": [{}]}, "mark": {"type": "text", "fontSize": 21, "fontWeight": "bold", "font": "Liberation Sans", "color": "black", "align": "center", "baseline": "middle"},
   "encoding": {"x": {"datum": 3355, "type": "quantitative"}, "y": {"datum": 0.259, "type": "quantitative"}, "text": {"value": "6"}}}
 ]
},
{
 "width": 311, "height": 266,
 "layer": [
  {"data": {"values": [{}]}, "mark": {"type": "rule", "strokeDash": [1, 2], "color": "#5a6a7a", "strokeWidth": 1}, "encoding": {"x": {"datum": 2050, "type": "quantitative"}}},
  {"data": {"name": "p7"}, "transform": [{"filter": "datum.k == 'd'"}], "mark": {"type": "line", "strokeWidth": 3, "interpolate": "monotone"},
   "encoding": {"x": {"field": "t", "type": "quantitative", "scale": {"domain": [0, 4000], "nice": false}, "axis": {"values": [0, 1000, 2000, 3000, 4000], "title": "time (s)"}},
    "y": {"field": "v", "type": "quantitative", "scale": {"domain": [0, 0.252], "nice": false}, "axis": {"values": [0, 0.05, 0.1, 0.15, 0.2, 0.25], "format": ".2f", "title": "Δλ (nm)"}},
    "color": {"field": "s", "type": "nominal", "legend": null, "scale": {"domain": ["R","O","G","B","Y","M"], "range": ["#ee3b55","#f28a30","#78e03c","#3a55e0","#aaaaaa","#c24fe3"]}}}},
  {"data": {"name": "p7"}, "transform": [{"filter": "datum.k == 'f'"}], "mark": {"type": "line", "strokeWidth": 1.5, "color": "#111111"},
   "encoding": {"x": {"field": "t", "type": "quantitative"}, "y": {"field": "v", "type": "quantitative"}, "detail": {"field": "s"}}},
  {"data": {"values": [{}]}, "mark": {"type": "text", "fontSize": 21, "fontWeight": "bold", "font": "Liberation Sans", "color": "black", "align": "center", "baseline": "middle"},
   "encoding": {"x": {"datum": 3215, "type": "quantitative"}, "y": {"datum": 0.147, "type": "quantitative"}, "text": {"value": "7"}}}
 ]
},
{
 "width": 311, "height": 266,
 "layer": [
  {"data": {"values": [{}]}, "mark": {"type": "rule", "strokeDash": [1, 2], "color": "#5a6a7a", "strokeWidth": 1}, "encoding": {"x": {"datum": 2050, "type": "quantitative"}}},
  {"data": {"name": "p8"}, "transform": [{"filter": "datum.k == 'd'"}], "mark": {"type": "line", "strokeWidth": 3, "interpolate": "monotone"},
   "encoding": {"x": {"field": "t", "type": "quantitative", "scale": {"domain": [0, 4000], "nice": false}, "axis": {"values": [0, 1000, 2000, 3000, 4000], "title": "time (s)"}},
    "y": {"field": "v", "type": "quantitative", "scale": {"domain": [0, 0.2525], "nice": false}, "axis": {"values": [0, 0.05, 0.1, 0.15, 0.2, 0.25], "format": ".2f", "title": "Δλ (nm)"}},
    "color": {"field": "s", "type": "nominal", "legend": null, "scale": {"domain": ["R","O","G","B","Y","M"], "range": ["#ee3b55","#f28a30","#78e03c","#3a55e0","#aaaaaa","#c24fe3"]}}}},
  {"data": {"name": "p8"}, "transform": [{"filter": "datum.k == 'f'"}], "mark": {"type": "line", "strokeWidth": 1.5, "color": "#111111"},
   "encoding": {"x": {"field": "t", "type": "quantitative"}, "y": {"field": "v", "type": "quantitative"}, "detail": {"field": "s"}}},
  {"data": {"values": [{}]}, "mark": {"type": "text", "fontSize": 21, "fontWeight": "bold", "font": "Liberation Sans", "color": "black", "align": "center", "baseline": "middle"},
   "encoding": {"x": {"datum": 3300, "type": "quantitative"}, "y": {"datum": 0.212, "type": "quantitative"}, "text": {"value": "8"}}}
 ]
}
]
}
